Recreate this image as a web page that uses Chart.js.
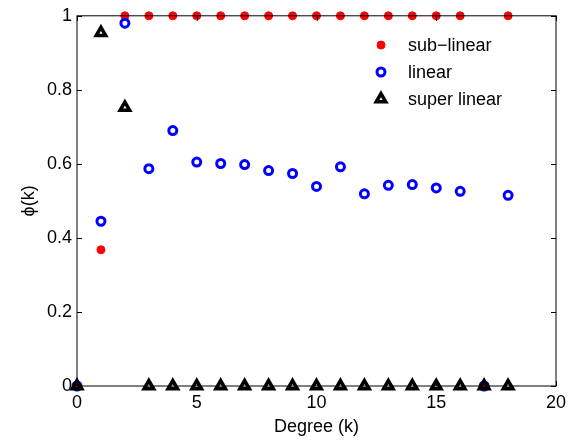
<!DOCTYPE html>
<html>
<head>
<meta charset="utf-8">
<script src="https://cdn.jsdelivr.net/npm/chart.js@4"></script>
<style>
  html, body { margin: 0; padding: 0; background: #fff; }
  #wrap { width: 580px; height: 442px; }
</style>
</head>
<body>
<div id="wrap"><canvas id="chart" width="580" height="442"></canvas></div>
<script>
// ── data ──
const degrees     = [0, 1, 2, 3, 4, 5, 6, 7, 8, 9, 10, 11, 12, 13, 14, 15, 16, 17, 18];
const subLinear   = [0, 0.368, 1, 1, 1, 1, 1, 1, 1, 1, 1, 1, 1, 1, 1, 1, 1, 0, 1];
const linear      = [0, 0.445, 0.98, 0.587, 0.69, 0.605, 0.601, 0.598, 0.582, 0.574, 0.539, 0.592, 0.519, 0.542, 0.544, 0.535, 0.526, 0, 0.515];
const superLinear = [0, 0.954, 0.752, 0, 0, 0, 0, 0, 0, 0, 0, 0, 0, 0, 0, 0, 0, 0, 0];
const xTicks = [0, 5, 10, 15, 20];
const yTicks = [0, 0.2, 0.4, 0.6, 0.8, 1];

const FONT = 'Liberation Sans, Arial, sans-serif';

const pts = arr => arr.map((v, i) => ({ x: degrees[i], y: v }));

const series = [
  { label: 'sub\u2212linear', data: pts(subLinear), pointStyle: 'circle', pointRadius: 4,
    pointBackgroundColor: '#ff0000', pointBorderColor: '#ff0000', pointBorderWidth: 1, order: 2 },
  { label: 'linear', data: pts(linear), pointStyle: 'circle', pointRadius: 4,
    pointBackgroundColor: 'rgba(0,0,0,0)', pointBorderColor: '#0000ff', pointBorderWidth: 3, order: 1 },
  { label: 'super linear', data: pts(superLinear), pointStyle: 'triangle', pointRadius: 5.5,
    pointBackgroundColor: 'rgba(0,0,0,0)', pointBorderColor: '#000000', pointBorderWidth: 3.5, order: 0 }
];

// box around the plot, inward ticks on all four sides, legend inside the axes
const matlabBox = {
  id: 'matlabBox',
  afterDraw(chart) {
    const { ctx, chartArea: a, scales } = chart;
    ctx.save();
    ctx.strokeStyle = '#000';
    ctx.lineWidth = 1;
    ctx.strokeRect(a.left, a.top, a.right - a.left, a.bottom - a.top);
    ctx.beginPath();
    xTicks.forEach(v => {
      const x = Math.round(scales.x.getPixelForValue(v)) + 0.5;
      ctx.moveTo(x, a.bottom); ctx.lineTo(x, a.bottom - 5);
      ctx.moveTo(x, a.top);    ctx.lineTo(x, a.top + 5);
    });
    yTicks.forEach(v => {
      const y = Math.round(scales.y.getPixelForValue(v)) + 0.5;
      ctx.moveTo(a.left, y);  ctx.lineTo(a.left + 5, y);
      ctx.moveTo(a.right, y); ctx.lineTo(a.right - 5, y);
    });
    ctx.stroke();

    // legend
    series.forEach((s, i) => {
      const y = 45 + i * 27;
      ctx.fillStyle = s.pointBackgroundColor;
      ctx.strokeStyle = s.pointBorderColor;
      ctx.lineWidth = s.pointBorderWidth;
      Chart.helpers.drawPoint(ctx, {
        pointStyle: s.pointStyle, radius: s.pointRadius, rotation: 0,
        borderWidth: s.pointBorderWidth
      }, 381, y);
      ctx.font = '18px ' + FONT;
      ctx.textBaseline = 'middle';
      ctx.textAlign = 'left';
      ctx.fillStyle = '#000';
      ctx.fillText(s.label, 408, y + 1);
    });
    ctx.restore();
  }
};

new Chart(document.getElementById('chart'), {
  type: 'scatter',
  data: {
    datasets: series.map(s => ({ ...s, clip: false, showLine: false }))
  },
  options: {
    responsive: false,
    animation: false,
    layout: { padding: { top: 9, right: 24, left: 0, bottom: 0 } },
    plugins: { legend: { display: false }, tooltip: { enabled: false } },
    scales: {
      x: {
        type: 'linear', min: 0, max: 20,
        afterFit: s => { s.height = 56; },
        afterBuildTicks: s => { s.ticks = xTicks.map(v => ({ value: v })); },
        grid: { display: false, drawTicks: false },
        border: { display: false },
        ticks: { color: '#000', font: { family: FONT, size: 18 }, padding: 6, maxRotation: 0 },
        title: { display: true, text: 'Degree (k)', color: '#000', font: { family: FONT, size: 18 }, padding: { top: 0 } }
      },
      y: {
        type: 'linear', min: 0, max: 1,
        afterFit: s => { s.width = 77; },
        afterBuildTicks: s => { s.ticks = yTicks.map(v => ({ value: v })); },
        grid: { display: false, drawTicks: false },
        border: { display: false },
        ticks: { color: '#000', font: { family: FONT, size: 18 }, padding: 5,
          callback: v => String(Math.round(v * 10) / 10) },
        title: { display: true, text: '\u03d5(k)', color: '#000', font: { family: FONT, size: 18 }, padding: { top: 18, bottom: 0 } }
      }
    }
  },
  plugins: [matlabBox]
});
</script>
</body>
</html>
